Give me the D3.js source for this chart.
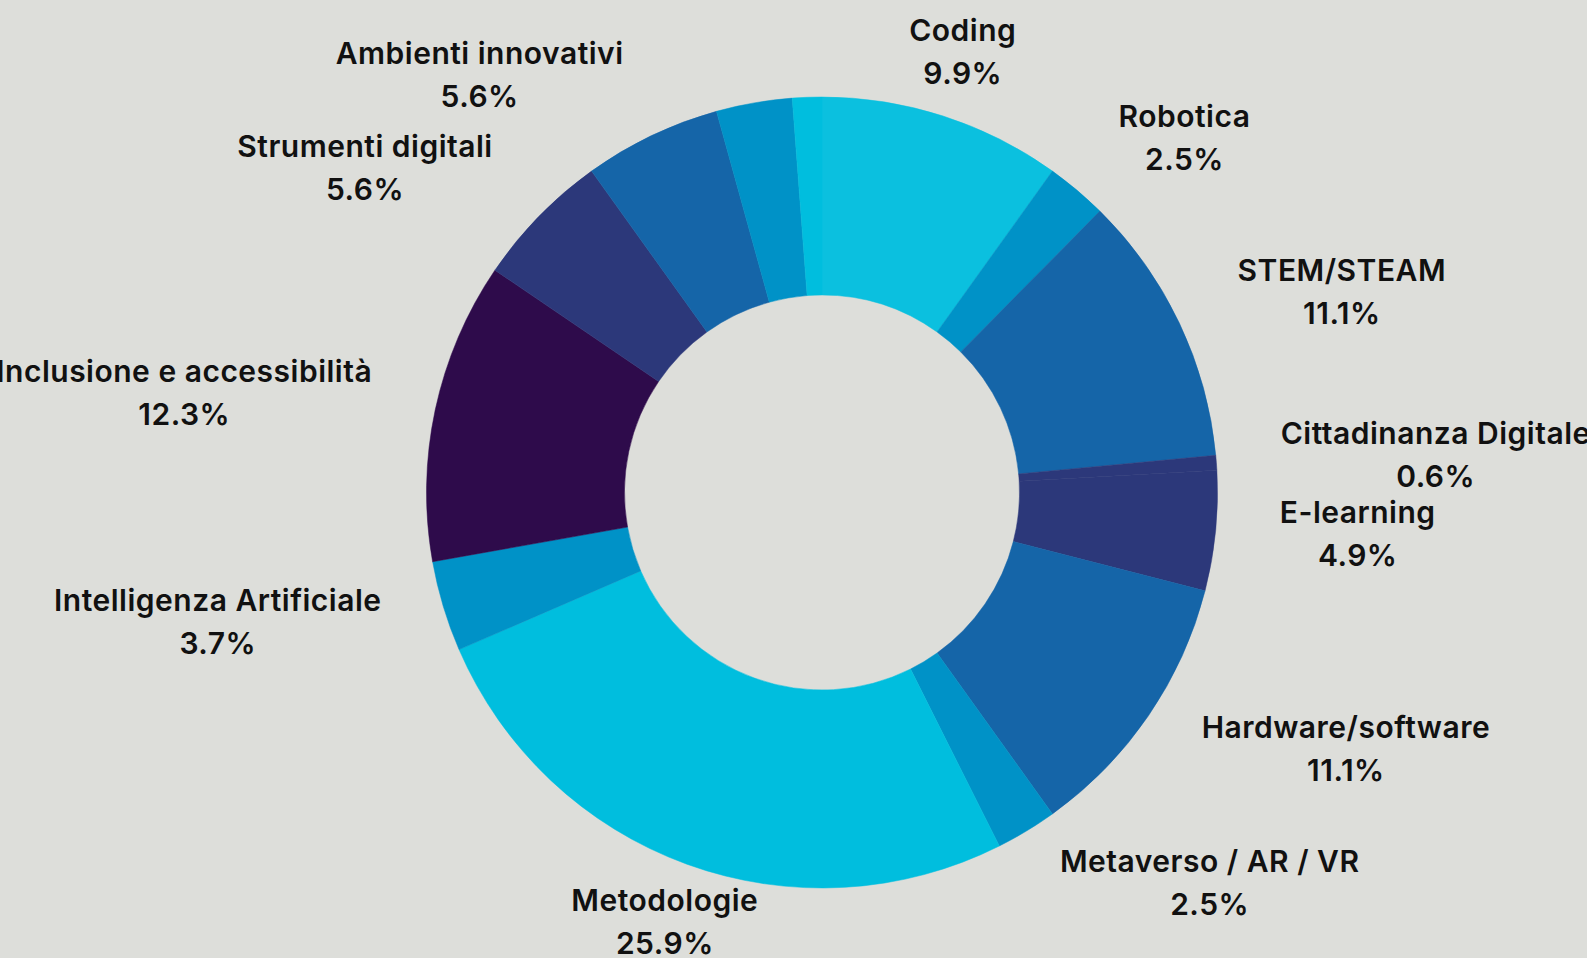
<!DOCTYPE html>
<html>
<head>
<meta charset="utf-8">
<script src="https://cdn.jsdelivr.net/npm/d3@7"></script>
<style>
  html, body { margin: 0; padding: 0; background: #dddeda; overflow: hidden; }
  svg { display: block; }
  text { font-family: Inter, "Noto Sans", sans-serif; font-weight: 600; fill: #111111; letter-spacing: 0.5px; }
</style>
</head>
<body>
<svg id="chart" width="1587" height="958"></svg>
<script>
// ---- data ----
const categories = ["Coding", "Robotica", "STEM/STEAM", "Cittadinanza Digitale", "E-learning",
  "Hardware/software", "Metaverso / AR / VR", "Metodologie", "Intelligenza Artificiale",
  "Inclusione e accessibilità", "Strumenti digitali", "Ambienti innovativi", "", ""];
const values = [9.9, 2.5, 11.1, 0.6, 4.9, 11.1, 2.5, 25.9, 3.7, 12.3, 5.6, 5.6, 3.1, 1.2];
const valueLabels = ["9.9%", "2.5%", "11.1%", "0.6%", "4.9%", "11.1%", "2.5%", "25.9%", "3.7%",
  "12.3%", "5.6%", "5.6%", "", ""];
const colors = ["#0bc0df", "#0092c7", "#1565a8", "#2c387a", "#2c387a", "#1565a8", "#0092c7",
  "#00bede", "#0092c7", "#2e0b4b", "#2c387a", "#1565a8", "#0092c7", "#00bede"];

// ---- layout ----
const W = 1587, H = 958;
const cx = 822, cy = 492.5;
const outerR = 395.5, innerR = 197.5, labelR = 460;
const fontSize = 30;

const svg = d3.select("#chart");
svg.append("rect").attr("width", W).attr("height", H).attr("fill", "#dddeda");
const g = svg.append("g").attr("transform", `translate(${cx},${cy})`);

const items = categories.map((c, i) => ({ name: c, value: values[i], label: valueLabels[i], color: colors[i] }));
const pie = d3.pie().value(d => d.value).sort(null);
const arcs = pie(items);
const arc = d3.arc().innerRadius(innerR).outerRadius(outerR);

g.selectAll("path.slice").data(arcs).join("path")
  .attr("class", "slice")
  .attr("d", arc)
  .attr("fill", d => d.data.color)
  .attr("stroke", d => d.data.color)
  .attr("stroke-width", 0.5);

const labels = g.selectAll("g.lab").data(arcs.filter(d => d.data.name)).join("g").attr("class", "lab");
labels.each(function(d) {
  const grp = d3.select(this);
  const mid = (d.startAngle + d.endAngle) / 2;
  const s = Math.sin(mid), c = Math.cos(mid);
  const ax = labelR * s, ay = -labelR * c;
  const t1 = grp.append("text").attr("text-anchor", "middle").attr("font-size", fontSize).text(d.data.name);
  const t2 = grp.append("text").attr("text-anchor", "middle").attr("font-size", fontSize).text(d.data.label);
  const w = Math.max(t1.node().getComputedTextLength(), t2.node().getComputedTextLength());
  let bx;
  if (Math.abs(s) < 0.4) bx = ax;
  else bx = ax + (s > 0 ? 1 : -1) * w / 2;
  t1.attr("x", bx).attr("y", ay - 14);
  t2.attr("x", bx).attr("y", ay + 29);
});
</script>
</body>
</html>
